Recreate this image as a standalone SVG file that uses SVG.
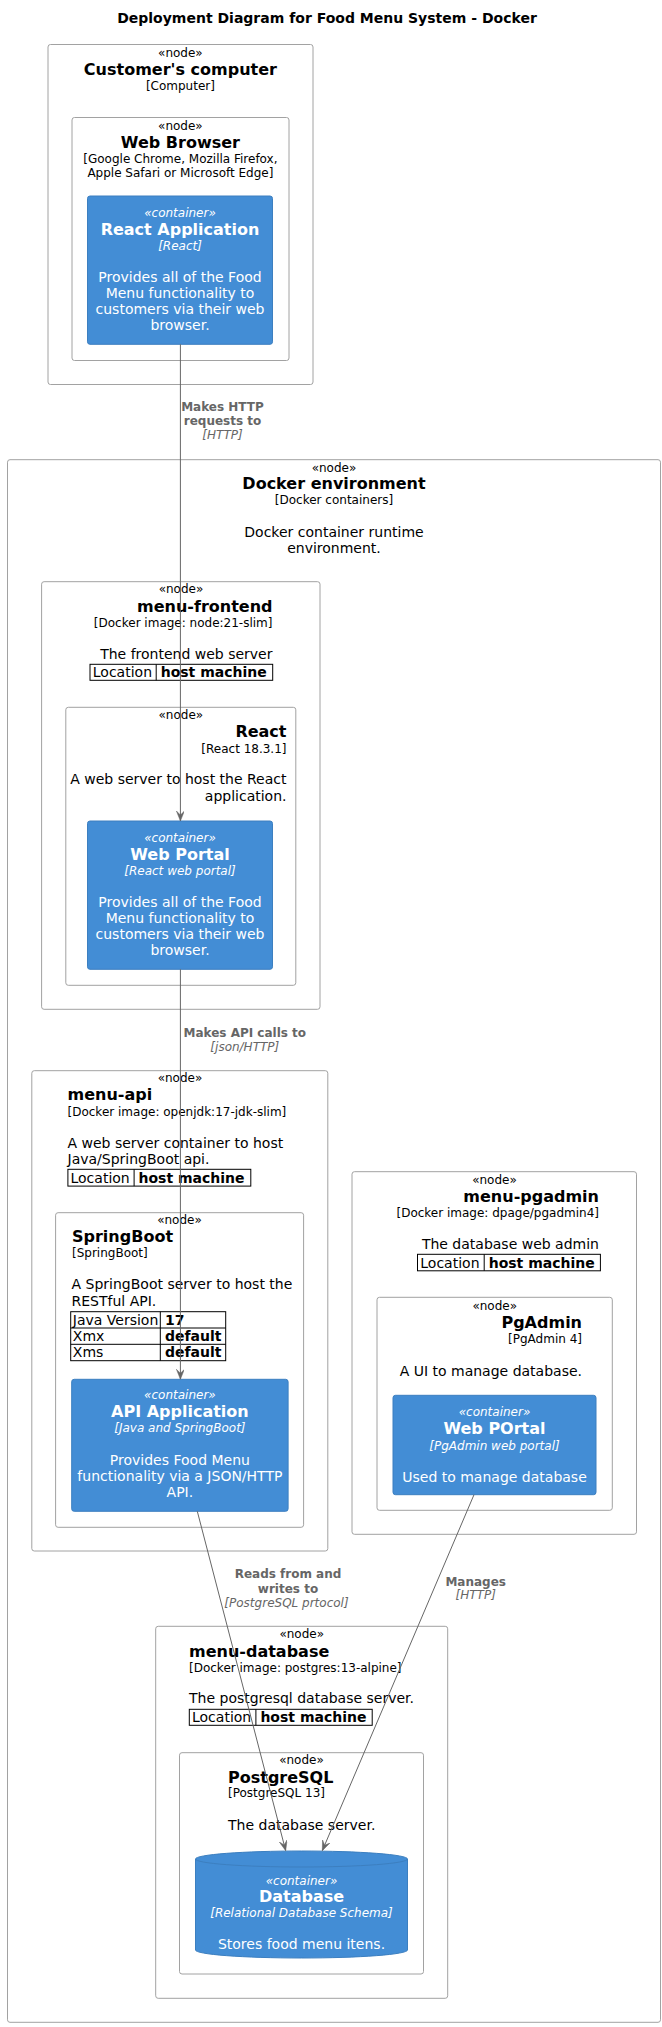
<svg xmlns="http://www.w3.org/2000/svg" width="662" height="2027" viewBox="0 0 662 2027">
<defs>
<style>
text{font-family:"DejaVu Sans","Liberation Sans",sans-serif;fill:#000}
.n{fill:#fff;stroke:#A2A2A2;stroke-width:1}
.c{fill:#438DD5;stroke:#3C7FC0;stroke-width:1}
.st{font-size:12px}
.nm{font-size:16px;font-weight:bold}
.tc{font-size:12px}
.ds{font-size:14px}
.b{font-weight:bold}
.w{fill:#fff}
.it{font-style:italic}
.m{text-anchor:middle}
.e{text-anchor:end}
.tb{fill:none;stroke:#000;stroke-width:1}
.lb{font-size:12px;font-weight:bold;fill:#666666;text-anchor:middle}
.li{font-size:12px;font-style:italic;fill:#666666;text-anchor:middle}
.cn{fill:none;stroke:#666666;stroke-width:1}
</style>
<marker id="arr" viewBox="0 0 10 8" refX="10" refY="4" markerWidth="10" markerHeight="8" markerUnits="userSpaceOnUse" orient="auto">
<path d="M0,0 L10,4 L0,8 L4,4 Z" fill="#666666" stroke="#666666" stroke-width="0.5"/>
</marker>
</defs>
<rect width="662" height="2027" fill="#fff"/>
<text x="327" y="23.3" class="m b" font-size="14">Deployment Diagram for Food Menu System - Docker</text>

<g id="customers-computer">
<rect class="n" x="48" y="44.5" width="265" height="340" rx="2.5"/>
<text class="st m" x="180.4" y="56.7">«node»</text>
<text class="nm m" x="180.4" y="75">Customer's computer</text>
<text class="tc m" x="180.4" y="90">[Computer]</text>
</g>
<g id="web-browser">
<rect class="n" x="72" y="117.5" width="217" height="243" rx="2.5"/>
<text class="st m" x="180.4" y="130">«node»</text>
<text class="nm m" x="180.4" y="147.7">Web Browser</text>
<text class="tc m" x="180.4" y="162.7">[Google Chrome, Mozilla Firefox,</text>
<text class="tc m" x="180.4" y="176.7">Apple Safari or Microsoft Edge]</text>
</g>
<g id="react-application">
<rect class="c" x="87.5" y="196" width="185" height="148.3" rx="2.5"/>
<text class="st m w it" x="180" y="216.7">«container»</text>
<text class="nm m w" x="180" y="235">React Application</text>
<text class="tc m w it" x="180" y="250">[React]</text>
<text class="ds m w" x="180" y="281.7">Provides all of the Food</text>
<text class="ds m w" x="180" y="297.9">Menu functionality to</text>
<text class="ds m w" x="180" y="314.1">customers via their web</text>
<text class="ds m w" x="180" y="330.3">browser.</text>
</g>

<g id="docker-environment">
<rect class="n" x="7.5" y="459.7" width="653" height="1562.6" rx="2.5"/>
<text class="st m" x="334" y="471.7">«node»</text>
<text class="nm m" x="334" y="489.3">Docker environment</text>
<text class="tc m" x="334" y="504.3">[Docker containers]</text>
<text class="ds m" x="334" y="536.7">Docker container runtime</text>
<text class="ds m" x="334" y="552.7">environment.</text>
</g>

<g id="menu-frontend">
<rect class="n" x="41.6" y="581.7" width="278.4" height="427.6" rx="2.5"/>
<text class="st m" x="181" y="593.3">«node»</text>
<text class="nm e" x="272.5" y="611.7">menu-frontend</text>
<text class="tc e" x="272.5" y="626.7">[Docker image: node:21-slim]</text>
<text class="ds e" x="272.5" y="659">The frontend web server</text>
<rect class="tb" x="90" y="664.3" width="182.7" height="16"/>
<line class="tb" x1="156.2" y1="664.3" x2="156.2" y2="680.3"/>
<text class="ds" x="92.8" y="677.3">Location</text>
<text class="ds b" x="160.7" y="677.3">host machine</text>
</g>
<g id="react-node">
<rect class="n" x="65.8" y="707.3" width="230" height="278" rx="2.5"/>
<text class="st m" x="180.8" y="719.3">«node»</text>
<text class="nm e" x="286.5" y="737.3">React</text>
<text class="tc e" x="286.5" y="752.7">[React 18.3.1]</text>
<text class="ds e" x="286.5" y="784.3">A web server to host the React</text>
<text class="ds e" x="286.5" y="800.5">application.</text>
</g>
<g id="web-portal">
<rect class="c" x="87.5" y="821" width="185" height="148.3" rx="2.5"/>
<text class="st m w it" x="180" y="841.7">«container»</text>
<text class="nm m w" x="180" y="860">Web Portal</text>
<text class="tc m w it" x="180" y="875">[React web portal]</text>
<text class="ds m w" x="180" y="906.7">Provides all of the Food</text>
<text class="ds m w" x="180" y="922.9">Menu functionality to</text>
<text class="ds m w" x="180" y="939.1">customers via their web</text>
<text class="ds m w" x="180" y="955.3">browser.</text>
</g>

<g id="menu-api">
<rect class="n" x="31.8" y="1070.7" width="296" height="480.3" rx="2.5"/>
<text class="st m" x="180" y="1082.3">«node»</text>
<text class="nm" x="67.5" y="1100">menu-api</text>
<text class="tc" x="67.5" y="1115.7">[Docker image: openjdk:17-jdk-slim]</text>
<text class="ds" x="67.5" y="1147.7">A web server container to host</text>
<text class="ds" x="67.5" y="1163.9">Java/SpringBoot api.</text>
<rect class="tb" x="67.9" y="1169.3" width="182.9" height="16.8"/>
<line class="tb" x1="134.1" y1="1169.3" x2="134.1" y2="1186.1"/>
<text class="ds" x="70.5" y="1182.8">Location</text>
<text class="ds b" x="138.5" y="1182.8">host machine</text>
</g>
<g id="springboot">
<rect class="n" x="55.6" y="1212.7" width="248" height="314.6" rx="2.5"/>
<text class="st m" x="179.5" y="1224.3">«node»</text>
<text class="nm" x="72" y="1242.3">SpringBoot</text>
<text class="tc" x="72" y="1257.3">[SpringBoot]</text>
<text class="ds" x="71.5" y="1289.3">A SpringBoot server to host the</text>
<text class="ds" x="71.5" y="1305.5">RESTful API.</text>
<rect class="tb" x="70.7" y="1311.7" width="155" height="49"/>
<line class="tb" x1="70.7" y1="1328" x2="225.7" y2="1328"/>
<line class="tb" x1="70.7" y1="1344.3" x2="225.7" y2="1344.3"/>
<line class="tb" x1="160.3" y1="1311.7" x2="160.3" y2="1360.7"/>
<text class="ds" x="72.8" y="1324.8">Java Version</text>
<text class="ds b" x="165" y="1324.8">17</text>
<text class="ds" x="72.8" y="1341">Xmx</text>
<text class="ds b" x="165" y="1341">default</text>
<text class="ds" x="72.8" y="1357.2">Xms</text>
<text class="ds b" x="165" y="1357.2">default</text>
</g>
<g id="api-application">
<rect class="c" x="71.7" y="1379.3" width="216.4" height="132" rx="2.5"/>
<text class="st m w it" x="179.9" y="1399.3">«container»</text>
<text class="nm m w" x="179.9" y="1417.3">API Application</text>
<text class="tc m w it" x="179.9" y="1432.3">[Java and SpringBoot]</text>
<text class="ds m w" x="179.9" y="1465">Provides Food Menu</text>
<text class="ds m w" x="179.9" y="1481.2">functionality via a JSON/HTTP</text>
<text class="ds m w" x="179.9" y="1497.4">API.</text>
</g>

<g id="menu-pgadmin">
<rect class="n" x="352" y="1171.7" width="284.5" height="362.6" rx="2.5"/>
<text class="st m" x="494.5" y="1184">«node»</text>
<text class="nm e" x="599" y="1201.7">menu-pgadmin</text>
<text class="tc e" x="599" y="1217.3">[Docker image: dpage/pgadmin4]</text>
<text class="ds e" x="599" y="1249.3">The database web admin</text>
<rect class="tb" x="417.5" y="1254.3" width="182.9" height="16.5"/>
<line class="tb" x1="484.2" y1="1254.3" x2="484.2" y2="1270.8"/>
<text class="ds" x="420.3" y="1267.6">Location</text>
<text class="ds b" x="488.7" y="1267.6">host machine</text>
</g>
<g id="pgadmin">
<rect class="n" x="377" y="1297.3" width="235.3" height="213" rx="2.5"/>
<text class="st m" x="494.7" y="1310">«node»</text>
<text class="nm e" x="582" y="1328.3">PgAdmin</text>
<text class="tc e" x="582" y="1343.3">[PgAdmin 4]</text>
<text class="ds e" x="582" y="1375.7">A UI to manage database.</text>
</g>
<g id="web-portal-pgadmin">
<rect class="c" x="393" y="1395.3" width="203" height="99.4" rx="2.5"/>
<text class="st m w it" x="494.5" y="1416">«container»</text>
<text class="nm m w" x="494.5" y="1434.3">Web POrtal</text>
<text class="tc m w it" x="494.5" y="1450">[PgAdmin web portal]</text>
<text class="ds m w" x="494.5" y="1481.7">Used to manage database</text>
</g>

<g id="menu-database">
<rect class="n" x="155.7" y="1626.3" width="292" height="372" rx="2.5"/>
<text class="st m" x="301.7" y="1638.3">«node»</text>
<text class="nm" x="189" y="1656.7">menu-database</text>
<text class="tc" x="189" y="1671.7">[Docker image: postgres:13-alpine]</text>
<text class="ds" x="189" y="1703.3">The postgresql database server.</text>
<rect class="tb" x="189.3" y="1709.3" width="182.9" height="16"/>
<line class="tb" x1="255.9" y1="1709.3" x2="255.9" y2="1725.3"/>
<text class="ds" x="192" y="1722.3">Location</text>
<text class="ds b" x="260.4" y="1722.3">host machine</text>
</g>
<g id="postgresql">
<rect class="n" x="179.5" y="1752.7" width="244" height="221.3" rx="2.5"/>
<text class="st m" x="301.5" y="1764.3">«node»</text>
<text class="nm" x="228" y="1782.7">PostgreSQL</text>
<text class="tc" x="228" y="1797.3">[PostgreSQL 13]</text>
<text class="ds" x="228" y="1829.7">The database server.</text>
</g>
<g id="database">
<path class="c" d="M195.5,1859 A106,8 0 0 1 407.5,1859 L407.5,1950 A106,8 0 0 1 195.5,1950 Z"/>
<path d="M195.5,1859 A106,8 0 0 0 407.5,1859" fill="none" stroke="#3C7FC0" stroke-width="1"/>
<text class="st m w it" x="301.5" y="1884.7">«container»</text>
<text class="nm m w" x="301.5" y="1902.3">Database</text>
<text class="tc m w it" x="301.5" y="1917.3">[Relational Database Schema]</text>
<text class="ds m w" x="301.5" y="1949.3">Stores food menu itens.</text>
</g>

<g id="connectors">
<line class="cn" x1="180.4" y1="344.3" x2="180.4" y2="821" marker-end="url(#arr)"/>
<text class="lb" x="222.5" y="410.7">Makes HTTP</text>
<text class="lb" x="222.5" y="425">requests to</text>
<text class="li" x="222.5" y="438.7">[HTTP]</text>
<line class="cn" x1="180.4" y1="969.3" x2="180.4" y2="1379.3" marker-end="url(#arr)"/>
<text class="lb" x="244.8" y="1036.7">Makes API calls to</text>
<text class="li" x="244.8" y="1050.7">[json/HTTP]</text>
<line class="cn" x1="197.3" y1="1511.3" x2="285.7" y2="1850.7" marker-end="url(#arr)"/>
<text class="lb" x="288" y="1578.3">Reads from and</text>
<text class="lb" x="288" y="1592.7">writes to</text>
<text class="li" x="286.5" y="1606.7">[PostgreSQL prtocol]</text>
<line class="cn" x1="474" y1="1494.7" x2="322.3" y2="1850.7" marker-end="url(#arr)"/>
<text class="lb" x="475.7" y="1585.7">Manages</text>
<text class="li" x="475.7" y="1599.3">[HTTP]</text>
</g>
</svg>
